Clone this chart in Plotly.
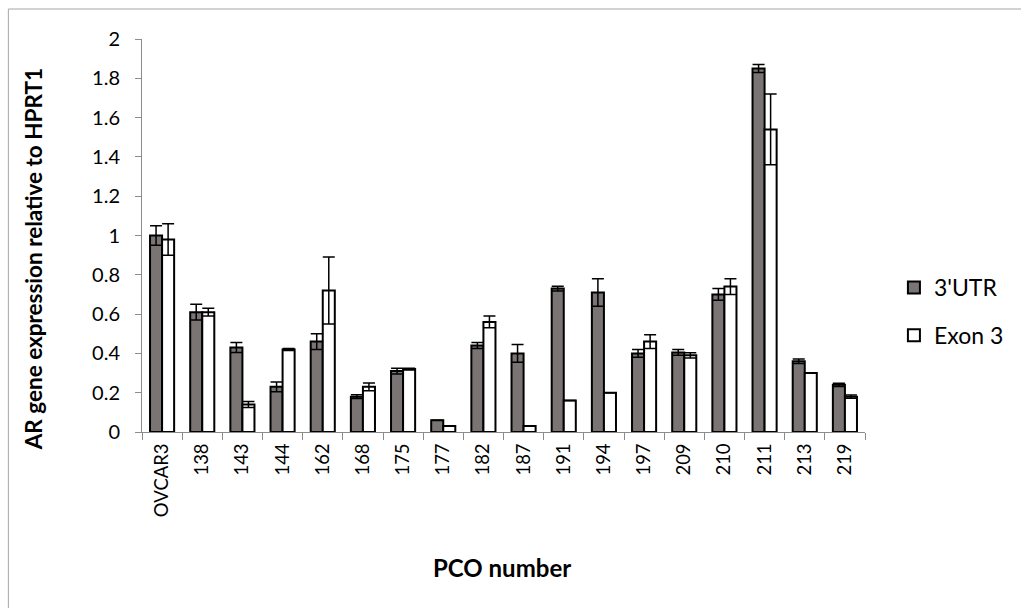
import plotly.graph_objects as go

# PCO samples (plus OVCAR3 control) and AR expression relative to HPRT1
categories = ["OVCAR3", "138", "143", "144", "162", "168", "175", "177", "182",
              "187", "191", "194", "197", "209", "210", "211", "213", "219"]

utr_values = [1.00, 0.61, 0.43, 0.23, 0.46, 0.18, 0.31, 0.06, 0.44,
              0.40, 0.73, 0.71, 0.40, 0.405, 0.70, 1.85, 0.36, 0.24]
utr_errors = [0.05, 0.04, 0.025, 0.025, 0.04, 0.01, 0.015, 0.0, 0.015,
              0.045, 0.012, 0.07, 0.02, 0.015, 0.03, 0.02, 0.012, 0.008]

exon_values = [0.98, 0.61, 0.14, 0.42, 0.72, 0.23, 0.32, 0.03, 0.56,
               0.03, 0.16, 0.20, 0.46, 0.39, 0.74, 1.54, 0.30, 0.18]
exon_errors = [0.08, 0.02, 0.015, 0.005, 0.17, 0.02, 0.005, 0.0, 0.03,
               0.0, 0.0, 0.0, 0.035, 0.013, 0.04, 0.18, 0.0, 0.008]

y_ticks = [0, 0.2, 0.4, 0.6, 0.8, 1, 1.2, 1.4, 1.6, 1.8, 2]

FONT = "Lato, 'Open Sans', sans-serif"
AXIS_GREY = "#8c8c8c"

# canvas geometry (px) used to place paper-referenced items
W, H = 1021, 608
L, R, T, B = 142, 154, 39, 176
PW, PH = W - L - R, H - T - B


def px_x(x):
    return (x - L) / PW


def px_y(y):
    return (H - B - y) / PH


err_style = dict(type="data", visible=True, color="black", thickness=1.5, width=6)

fig = go.Figure()
fig.add_trace(go.Bar(
    name="3'UTR", x=categories, y=utr_values, legendgroup="utr",
    marker=dict(color="#7a7574", line=dict(color="black", width=2)),
    error_y=dict(array=utr_errors, **err_style),
))
fig.add_trace(go.Bar(
    name="Exon 3", x=categories, y=exon_values, legendgroup="exon",
    marker=dict(color="white", line=dict(color="black", width=2)),
    error_y=dict(array=exon_errors, **err_style),
))

fig.update_layout(
    width=W, height=H,
    margin=dict(l=L, r=R, t=T, b=B),
    paper_bgcolor="white", plot_bgcolor="white",
    barmode="group", bargap=0.4, bargroupgap=0,
    font=dict(family=FONT, size=19, color="black"),
    showlegend=True,
    legend=dict(
        x=px_x(896), xanchor="left", y=px_y(266), yanchor="top",
        traceorder="grouped", tracegroupgap=15,
        font=dict(size=23, color="black"),
        itemwidth=30, bgcolor="rgba(0,0,0,0)",
    ),
    xaxis=dict(
        type="category", tickson="boundaries", ticks="outside", ticklen=7,
        tickcolor=AXIS_GREY, showline=True, linecolor=AXIS_GREY, linewidth=1,
        tickangle=-90, showgrid=False, ticklabelstandoff=3,
        tickfont=dict(size=18.5, color="black"),
    ),
    yaxis=dict(
        range=[0, 2], tickvals=y_ticks, ticks="outside", ticklen=6,
        tickcolor=AXIS_GREY, showline=True, linecolor=AXIS_GREY, linewidth=1,
        showgrid=False, zeroline=False, ticklabelstandoff=11,
        tickfont=dict(size=20, color="black"),
    ),
    annotations=[
        dict(text="<b>AR gene expression relative to HPRT1</b>", textangle=-90,
             xref="paper", yref="paper", x=px_x(33), y=px_y(259),
             xanchor="center", yanchor="middle", showarrow=False,
             font=dict(size=22.5, color="black")),
        dict(text="<b>PCO number</b>",
             xref="paper", yref="paper", x=px_x(503), y=px_y(567),
             xanchor="center", yanchor="middle", showarrow=False,
             font=dict(size=24, color="black")),
    ],
    shapes=[
        dict(type="rect", xref="paper", yref="paper",
             x0=px_x(8), x1=px_x(W + 5), y0=px_y(H + 5), y1=px_y(9),
             line=dict(color="#a6a6a6", width=1), layer="below"),
    ],
)

fig.write_html("out.html")
